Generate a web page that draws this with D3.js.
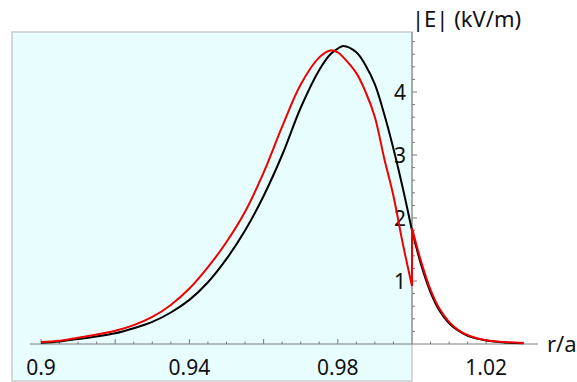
<!DOCTYPE html>
<html>
<head>
<meta charset="utf-8">
<script src="https://cdn.jsdelivr.net/npm/d3@7"></script>
<style>
  body { margin: 0; background: #fff; }
  svg text { font-family: "Noto Sans", "Open Sans", sans-serif; fill: #111; }
</style>
</head>
<body>
<div id="chart"></div>
<script>
// |E| profile across the boundary r/a = 1
var rInner = [0.900, 0.905, 0.910, 0.915, 0.920, 0.925, 0.930, 0.935, 0.940, 0.945, 0.950, 0.955, 0.960, 0.965, 0.970, 0.975, 0.978, 0.980, 0.9815, 0.985, 0.9875, 0.990, 0.9925, 0.995, 0.9975, 1.000];
var blackInner = [0.02, 0.04, 0.08, 0.12, 0.17, 0.25, 0.35, 0.50, 0.70, 0.98, 1.35, 1.80, 2.35, 3.00, 3.75, 4.35, 4.60, 4.69, 4.73, 4.63, 4.42, 4.12, 3.65, 3.10, 2.48, 1.80];
var redInner = [0.03, 0.05, 0.10, 0.15, 0.21, 0.30, 0.43, 0.62, 0.88, 1.22, 1.62, 2.10, 2.72, 3.45, 4.12, 4.55, 4.66, 4.63, 4.55, 4.30, 4.00, 3.60, 2.95, 2.35, 1.60, 0.92];

var rOuter = [1.000, 1.0025, 1.005, 1.0075, 1.010, 1.0125, 1.015, 1.0175, 1.020, 1.025, 1.030];
var blackOuter = [1.80, 1.25, 0.82, 0.52, 0.33, 0.21, 0.13, 0.085, 0.055, 0.025, 0.012];
var redOuter = [1.84, 1.30, 0.86, 0.55, 0.35, 0.22, 0.14, 0.09, 0.06, 0.03, 0.015];

var xLabels = [0.9, 0.94, 0.98, 1.02];
var yLabels = [1, 2, 3, 4];

var w = 577;
var h = 382;

var xScale = d3.scaleLinear().domain([0.9, 1.0]).range([41, 412]);
var yScale = d3.scaleLinear().domain([0, 4]).range([344, 92]);

function pts(xs, ys) {
    return xs.map(function(d, i) { return [d, ys[i]]; });
}

function init()
{
    var svg = d3.select("#chart").append("svg").attr("width", w).attr("height", h);

    // plot region background
    svg.append("rect")
        .attr("x", 12).attr("y", 32)
        .attr("width", xScale(1.0) - 12).attr("height", 349)
        .attr("fill", "#e8fdfd")
        .attr("stroke", "#cccccc")
        .attr("stroke-width", 1.5);

    var axisColor = "#7a7a7a";
    var x0 = xScale(1.0);
    var y0 = yScale(0);

    // x axis
    svg.append("line")
        .attr("x1", xScale(0.897)).attr("x2", xScale(1.034))
        .attr("y1", y0).attr("y2", y0)
        .attr("stroke", axisColor).attr("stroke-width", 1);

    var xMinor = d3.range(0.9, 1.0326, 0.005).filter(function(d) { return Math.abs(d - 1) > 1e-6; });
    svg.selectAll(".xtick")
        .data(xMinor)
        .enter()
        .append("line")
        .attr("x1", (d) => xScale(d)).attr("x2", (d) => xScale(d))
        .attr("y1", y0)
        .attr("y2", function(d) {
            var major = Math.abs(Math.round(d * 50) - d * 50) < 1e-6;
            return y0 - (major ? 5 : 2.5);
        })
        .attr("stroke", axisColor).attr("stroke-width", 1);

    svg.selectAll(".xlabel")
        .data(xLabels)
        .enter()
        .append("text")
        .attr("x", (d) => xScale(d))
        .attr("y", 375)
        .attr("text-anchor", "middle")
        .attr("font-size", 21)
        .text((d) => d);

    // y axis
    svg.append("line")
        .attr("x1", x0).attr("x2", x0)
        .attr("y1", y0).attr("y2", 32)
        .attr("stroke", axisColor).attr("stroke-width", 1);

    var yMinor = d3.range(0.2, 4.81, 0.2);
    svg.selectAll(".ytick")
        .data(yMinor)
        .enter()
        .append("line")
        .attr("y1", (d) => yScale(d)).attr("y2", (d) => yScale(d))
        .attr("x1", x0)
        .attr("x2", function(d) {
            var major = Math.abs(Math.round(d) - d) < 1e-6;
            return x0 + (major ? 5 : 3);
        })
        .attr("stroke", axisColor).attr("stroke-width", 1);

    svg.selectAll(".ylabel")
        .data(yLabels)
        .enter()
        .append("text")
        .attr("x", x0 - 6)
        .attr("y", (d) => yScale(d))
        .attr("dy", "0.36em")
        .attr("text-anchor", "end")
        .attr("font-size", 21)
        .text((d) => d);

    svg.append("text")
        .attr("x", x0).attr("y", 27)
        .attr("font-size", 22)
        .text("|E| (kV/m)");

    svg.append("text")
        .attr("x", 547).attr("y", 352)
        .attr("font-size", 22)
        .text("r/a");

    var line = d3.line()
        .x((d) => xScale(d[0]))
        .y((d) => yScale(d[1]))
        .curve(d3.curveCatmullRom.alpha(0.5));

    // black curve
    svg.append("path").attr("d", line(pts(rInner, blackInner)))
        .attr("fill", "none").attr("stroke", "#000").attr("stroke-width", 2);
    svg.append("path").attr("d", line(pts(rOuter, blackOuter)))
        .attr("fill", "none").attr("stroke", "#000").attr("stroke-width", 2);

    // red curve, with its jump at r/a = 1
    var jump = [[1.0, redInner[redInner.length - 1]], [1.0, redOuter[0]]];
    svg.append("path").attr("d", line(pts(rInner, redInner)))
        .attr("fill", "none").attr("stroke", "#ee0000").attr("stroke-width", 2);
    svg.append("path").attr("d", d3.line().x((d) => xScale(d[0])).y((d) => yScale(d[1]))(jump))
        .attr("fill", "none").attr("stroke", "#ee0000").attr("stroke-width", 2);
    svg.append("path").attr("d", line(pts(rOuter, redOuter)))
        .attr("fill", "none").attr("stroke", "#ee0000").attr("stroke-width", 2);
}

window.onload = init;
</script>
</body>
</html>
